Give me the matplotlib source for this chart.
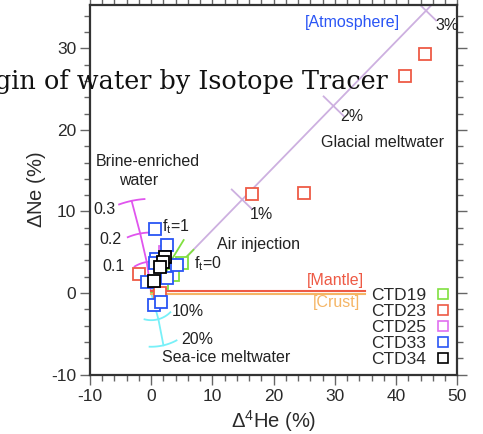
import numpy as np
import matplotlib
matplotlib.use("Agg")
import matplotlib.pyplot as plt
from matplotlib.ticker import MultipleLocator

plt.rcParams['font.family'] = ['Liberation Sans', 'DejaVu Sans']
plt.rcParams['mathtext.fontset'] = 'custom'
plt.rcParams['mathtext.rm'] = 'Liberation Sans'
plt.rcParams['mathtext.it'] = 'Liberation Sans'
plt.rcParams['axes.unicode_minus'] = False

# ---- data (Δ4He %, ΔNe %) ----
ctd19_he = [5.0, 3.5, 1.7]
ctd19_ne = [3.7, 2.2, 1.2]
ctd23_he = [44.8, 41.5, 16.5, 25.0, -2.0, 1.4]
ctd23_ne = [29.3, 26.6, 12.2, 12.3, 2.4, 0.0]
ctd25_he = [2.3]
ctd25_ne = [5.0]
ctd33_he = [0.6, 2.6, 0.8, 4.2, 2.6, -0.7, 0.45, 1.6, 0.6]
ctd33_ne = [7.8, 5.9, 4.2, 3.5, 1.9, 1.4, -1.5, -1.15, 3.7]
ctd34_he = [2.3, 1.9, 1.4, 0.4]
ctd34_ne = [4.4, 3.8, 3.2, 1.5]

# glacial meltwater mixing line (1%, 2%, 3%)
glacial_labels = ['1%', '2%', '3%']
glacial_he = [14.8, 29.8, 44.9]
glacial_ne = [11.5, 22.9, 34.6]
glacial_line_he = [0, 48]
glacial_line_ne = [0, 37.0]

# brine-enriched water (0.1, 0.2, 0.3)
brine_labels = ['0.1', '0.2', '0.3']
brine_he = [-0.73, -1.8, -3.2]
brine_ne = [3.8, 7.3, 11.3]

# sea-ice meltwater (10%, 20%)
seaice_labels = ['10%', '20%']
seaice_he = [1.17, 2.0]
seaice_ne = [-3.2, -6.4]

# air injection lines
air_f1_he = [0, 5.3]
air_f1_ne = [0, 6.5]
air_f0_he = [0, 6.9]
air_f0_ne = [0, 5.3]

# end-member lines
mantle_he = [0, 35]
mantle_ne = [0.2, 0.2]
crust_he = [0, 35]
crust_ne = [-0.12, -0.12]

RED = '#ee5a45'
BLUE = '#2a55f5'
GREEN = '#80e040'
MAG = '#e070f0'
PURPLE = '#cdb0e0'
CYAN = '#78f0f8'
ORANGE = '#f5b565'
MAGLINE = '#e055ee'

W, H = 483, 434
fig = plt.figure(figsize=(W/100, H/100), dpi=100)
ax = fig.add_axes([90/W, 1-374.7/H, (457.3-90)/W, (374.7-5)/H])
ax.set_xlim(-10, 50)
ax.set_ylim(-10, 35.3)

ax.xaxis.set_major_locator(MultipleLocator(10))
ax.xaxis.set_minor_locator(MultipleLocator(2))
ax.yaxis.set_major_locator(MultipleLocator(10))
ax.yaxis.set_minor_locator(MultipleLocator(2))
ax.tick_params(which='both', direction='out', top=True, right=True,
               labelsize=12.5, color='#666666', width=1.0, labelcolor='#2a2a2a')
ax.tick_params(which='major', length=7, pad=3)
ax.tick_params(which='minor', length=4)
for s in ax.spines.values():
    s.set_linewidth(1.6)
    s.set_color('#333333')

ax.set_xlabel(r'$\Delta^{4}$He (%)', fontsize=14.5, labelpad=3, color='#2a2a2a')
ax.set_ylabel(r'$\Delta$Ne (%)', fontsize=14.5, labelpad=2, color='#2a2a2a')

fig.canvas.draw()
T = ax.transData
Ti = T.inverted()

def perp_tick(xd, yd, x0, y0, length=26, **kw):
    p = T.transform([xd, yd]); o = T.transform([x0, y0])
    d = (p - o) / np.linalg.norm(p - o)
    n = np.array([-d[1], d[0]])
    pts = np.array([p - n*length/2, p + n*length/2])
    dd = Ti.transform(pts)
    ax.plot(dd[:, 0], dd[:, 1], **kw)

def arc_tick(xd, yd, x0, y0, arclen=26, **kw):
    p = T.transform([xd, yd]); o = T.transform([x0, y0])
    r = np.linalg.norm(p - o)
    a0 = np.arctan2(p[1]-o[1], p[0]-o[0])
    half = arclen / 2 / r
    a = np.linspace(a0-half, a0+half, 30)
    pts = np.column_stack([o[0] + r*np.cos(a), o[1] + r*np.sin(a)])
    dd = Ti.transform(pts)
    ax.plot(dd[:, 0], dd[:, 1], **kw)

# glacial line
ax.plot(glacial_line_he, glacial_line_ne, color=PURPLE, lw=1.3, zorder=1)
for xh, yn in zip(glacial_he, glacial_ne):
    perp_tick(xh, yn, 0, 0, length=28, color=PURPLE, lw=1.3, zorder=1)

# brine line
ax.plot([0] + brine_he, [0] + brine_ne, color=MAGLINE, lw=1.3, zorder=1)
for xh, yn in zip(brine_he, brine_ne):
    arc_tick(xh, yn, 0, 0, arclen=26, color=MAGLINE, lw=1.3, zorder=1)

# sea ice
ax.plot([0] + seaice_he, [0] + seaice_ne, color=CYAN, lw=1.3, zorder=1)
for xh, yn in zip(seaice_he, seaice_ne):
    arc_tick(xh, yn, 0, 0, arclen=28, color=CYAN, lw=1.3, zorder=1)

# air injection
ax.plot(air_f1_he, air_f1_ne, color=GREEN, lw=1.3, zorder=1)
ax.plot(air_f0_he, air_f0_ne, color=GREEN, lw=1.3, zorder=1)

# mantle / crust
ax.plot(mantle_he, mantle_ne, color=RED, lw=1.5, zorder=1)
ax.plot(crust_he, crust_ne, color=ORANGE, lw=1.5, zorder=1)

mk = dict(marker='s', ls='none', ms=8.5, mew=1.3, mfc='white', zorder=3)
ax.plot(ctd19_he, ctd19_ne, mec=GREEN, label='CTD19', **mk)
ax.plot(ctd23_he, ctd23_ne, mec=RED, label='CTD23', **mk)
ax.plot(ctd25_he, ctd25_ne, mec=MAG, label='CTD25', **mk)
ax.plot(ctd33_he, ctd33_ne, mec=BLUE, label='CTD33', **mk)
ax.plot(ctd34_he, ctd34_ne, mec='black', label='CTD34', **mk)

leg = ax.legend(loc='lower right', bbox_to_anchor=(1.0, 0.0), markerfirst=False,
                frameon=False, fontsize=12.5, labelspacing=0.04, handlelength=0.8,
                handletextpad=0.55, borderaxespad=0.0, borderpad=0.45)
for h in leg.legend_handles:
    h.set_markersize(7.5)
    h.set_markeredgewidth(1.2)
for t in leg.get_texts():
    t.set_color('#2a2a2a')

tc = '#222222'
fs = 11.5
ax.text(40.7, 33.2, '[Atmosphere]', color=BLUE, fontsize=fs, ha='right', va='center')
ax.text(48.4, 32.8, glacial_labels[2], color=tc, fontsize=fs, ha='center', va='center')
ax.text(32.7, 21.6, glacial_labels[1], color=tc, fontsize=fs, ha='center', va='center')
ax.text(18.0, 9.6, glacial_labels[0], color=tc, fontsize=fs, ha='center', va='center')
ax.text(37.7, 18.5, 'Glacial meltwater', color=tc, fontsize=fs, ha='center', va='center')
ax.text(-0.6, 16.1, 'Brine-enriched', color=tc, fontsize=fs, ha='center', va='center')
ax.text(-2.1, 13.8, 'water', color=tc, fontsize=fs, ha='center', va='center')
ax.text(-7.7, 10.3, brine_labels[2], color=tc, fontsize=fs, ha='center', va='center')
ax.text(-6.7, 6.6, brine_labels[1], color=tc, fontsize=fs, ha='center', va='center')
ax.text(-6.2, 3.2, brine_labels[0], color=tc, fontsize=fs, ha='center', va='center')
ax.text(4.0, 8.1, r'f$_\mathregular{t}$=1', color=tc, fontsize=fs, ha='center', va='center')
ax.text(9.3, 3.6, r'f$_\mathregular{t}$=0', color=tc, fontsize=fs, ha='center', va='center')
ax.text(17.5, 6.0, 'Air injection', color=tc, fontsize=fs, ha='center', va='center')
ax.text(34.8, 1.6, '[Mantle]', color=RED, fontsize=fs, ha='right', va='center')
ax.text(34.1, -1.2, '[Crust]', color=ORANGE, fontsize=fs, ha='right', va='center')
ax.text(5.9, -2.25, seaice_labels[0], color=tc, fontsize=fs, ha='center', va='center')
ax.text(7.5, -5.7, seaice_labels[1], color=tc, fontsize=fs, ha='center', va='center')
ax.text(12.2, -7.95, 'Sea-ice meltwater', color=tc, fontsize=fs, ha='center', va='center')

fig.text(388/W, 1-89/H, 'Origin of water by Isotope Tracer', family='DejaVu Serif',
         fontsize=18.4, ha='right', va='baseline', color='#111111')

fig.savefig('out.png', dpi=100)
